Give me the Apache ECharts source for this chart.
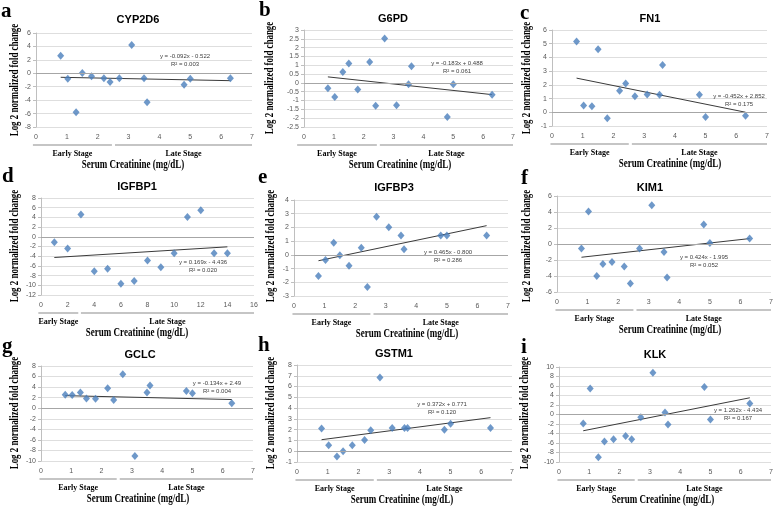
<!DOCTYPE html>
<html>
<head>
<meta charset="utf-8">
<script src="https://cdn.jsdelivr.net/npm/echarts@6/dist/echarts.min.js"></script>
<style>
  html, body { margin: 0; padding: 0; background: #fff; }
  #chart { width: 778px; height: 507px; }
</style>
</head>
<body>
<div id="chart"></div>
<script>
// serum creatinine of the 14 samples (shared by all panels except IGFBP1)
const creatinine = [0.8, 1.03, 1.3, 1.5, 1.8, 2.2, 2.4, 2.7, 3.1, 3.5, 3.6, 4.8, 5.0, 6.3];
// IGFBP1 panel is plotted against sample order
const sampleOrder = [1, 2, 3, 4, 5, 6, 7, 8, 9, 10, 11, 12, 13, 14];

// log2 normalized fold change per gene
const cyp2d6 = [2.6, -0.8, -5.8, 0.05, -0.45, -0.75, -1.3, -0.75, 4.2, -0.75, -4.3, -1.7, -0.8, -0.75];
const g6pd = [-0.3, -0.8, 0.62, 1.1, -0.38, 1.18, -1.3, 2.52, -1.27, -0.08, 0.95, -1.93, -0.07, -0.67];
const fn1 = [5.16, 0.5, 0.44, 4.6, -0.44, 1.57, 2.1, 1.17, 1.3, 1.27, 3.45, 1.27, -0.35, -0.25];
const igfbp1 = [-1.1, -2.4, 4.6, -7.1, -6.6, -9.7, -9.1, -4.9, -6.3, -3.4, 4.1, 5.5, -3.4, -3.4];
const igfbp3 = [-1.55, -0.38, 0.88, -0.02, -0.8, 0.52, -2.35, 2.78, 2.02, 1.42, 0.4, 1.42, 1.42, 1.42];
const kim1 = [-0.55, 4.05, -4.0, -2.5, -2.25, -2.8, -4.95, -0.55, 4.85, -1.0, -4.2, 2.45, 0.12, 0.7];
const gclc = [2.55, 2.5, 3.0, 1.85, 1.8, 3.8, 1.55, 6.45, -9.05, 3.0, 4.3, 3.25, 2.85, 0.95];
const gstm1 = [2.1, 0.55, -0.5, 0.0, 0.55, 1.05, 1.95, 6.85, 2.15, 2.15, 2.15, 2.0, 2.55, 2.15];
const klk = [-1.9, 5.5, -9.0, -5.7, -5.2, -4.5, -5.2, -0.6, 8.8, 0.4, -2.1, 5.8, -1.05, 2.3];

// linear trend lines (end points from the printed equations)
const cyp2d6Trend = [[0.8, -0.596], [6.3, -1.102]];
const g6pdTrend = [[0.8, 0.342], [6.3, -0.665]];
const fn1Trend = [[0.8, 2.490], [6.3, 0.004]];
const igfbp1Trend = [[1, -4.267], [14, -2.070]];
const igfbp3Trend = [[0.8, -0.428], [6.3, 2.130]];
const kim1Trend = [[0.8, -1.656], [6.3, 0.676]];
const gclcTrend = [[0.8, 2.383], [6.3, 1.646]];
const gstm1Trend = [[0.8, 1.069], [6.3, 3.115]];
const klkTrend = [[0.8, -3.424], [6.3, 3.517]];

const equations = [
	['y = -0.092x - 0.522', 'R² = 0.003'],
	['y = -0.183x + 0.488', 'R² = 0.061'],
	['y = -0.452x + 2.852', 'R² = 0.175'],
	['y = 0.169x - 4.436', 'R² = 0.020'],
	['y = 0.465x - 0.800', 'R² = 0.286'],
	['y = 0.424x - 1.995', 'R² = 0.052'],
	['y = -0.134x + 2.49', 'R² = 0.004'],
	['y = 0.372x + 0.771', 'R² = 0.120'],
	['y = 1.262x - 4.434', 'R² = 0.167'],
];

// panel layout (pixels) + axis ranges
const panels = [
	{ letter: 'a', title: 'CYP2D6', x: creatinine, y: cyp2d6, trend: cyp2d6Trend, yMin: -8, yMax: 6, yStep: 2, xMax: 7, xStep: 1,
		grid: [36, 33, 216, 94], titlePos: [138, 20], letterPos: [1, 1], yNamePos: [15, 80], eqPos: [185, 56], xNameX: 133, early: [-0.1, 2.46], late: [2.56, 7] },
	{ letter: 'b', title: 'G6PD', x: creatinine, y: g6pd, trend: g6pdTrend, yMin: -2.5, yMax: 3, yStep: 0.5, xMax: 7, xStep: 1,
		grid: [304, 30, 209, 97], titlePos: [393, 19], letterPos: [259, 0], yNamePos: [270, 78], eqPos: [457, 63], xNameX: 400, early: [-0.23, 2.44], late: [2.54, 7] },
	{ letter: 'c', title: 'FN1', x: creatinine, y: fn1, trend: fn1Trend, yMin: -1, yMax: 6, yStep: 1, xMax: 7, xStep: 1,
		grid: [552, 30, 215, 96], titlePos: [650, 19], letterPos: [520, 3], yNamePos: [527, 78], eqPos: [739, 96], xNameX: 670, early: [-0.05, 2.5], late: [2.6, 7] },
	{ letter: 'd', title: 'IGFBP1', x: sampleOrder, y: igfbp1, trend: igfbp1Trend, yMin: -12, yMax: 8, yStep: 2, xMax: 16, xStep: 2,
		grid: [41, 198, 213, 97], titlePos: [137, 187], letterPos: [2, 166], yNamePos: [15, 246], eqPos: [203, 262], xNameX: 137, early: [-0.2, 2.8], late: [3.0, 16] },
	{ letter: 'e', title: 'IGFBP3', x: creatinine, y: igfbp3, trend: igfbp3Trend, yMin: -3, yMax: 4, yStep: 1, xMax: 7, xStep: 1,
		grid: [294, 200, 214, 96], titlePos: [394, 188], letterPos: [258, 167], yNamePos: [271, 246], eqPos: [448, 252], xNameX: 407, early: [-0.05, 2.5], late: [2.6, 7] },
	{ letter: 'f', title: 'KIM1', x: creatinine, y: kim1, trend: kim1Trend, yMin: -6, yMax: 6, yStep: 2, xMax: 7, xStep: 1,
		grid: [557, 196, 214, 96], titlePos: [650, 188], letterPos: [521, 168], yNamePos: [527, 246], eqPos: [704, 257], xNameX: 670, early: [-0.05, 2.5], late: [2.6, 7] },
	{ letter: 'g', title: 'GCLC', x: creatinine, y: gclc, trend: gclcTrend, yMin: -10, yMax: 8, yStep: 2, xMax: 7, xStep: 1,
		grid: [41, 366, 212, 95], titlePos: [140, 355], letterPos: [2, 336], yNamePos: [15, 413], eqPos: [217, 383], xNameX: 138, early: [-0.05, 2.5], late: [2.6, 7] },
	{ letter: 'h', title: 'GSTM1', x: creatinine, y: gstm1, trend: gstm1Trend, yMin: -1, yMax: 8, yStep: 1, xMax: 7, xStep: 1,
		grid: [297, 365, 215, 97], titlePos: [394, 354], letterPos: [258, 335], yNamePos: [271, 413], eqPos: [442, 404], xNameX: 402, early: [-0.05, 2.5], late: [2.6, 7] },
	{ letter: 'i', title: 'KLK', x: creatinine, y: klk, trend: klkTrend, yMin: -10, yMax: 10, yStep: 2, xMax: 7, xStep: 1,
		grid: [559, 367, 212, 95], titlePos: [655, 355], letterPos: [521, 337], yNamePos: [525, 413], eqPos: [738, 410], xNameX: 663, early: [-0.05, 2.5], late: [2.6, 7] },
];

const SERIF = '"Liberation Serif", "DejaVu Serif", serif';
const SANS = '"Liberation Sans", Arial, sans-serif';
const TICK = '#595959';

const chart = echarts.init(document.getElementById('chart'), null, { renderer: 'canvas' });

const grid = [];
const xAxis = [];
const yAxis = [];
const series = [];

panels.forEach((p, i) => {
	grid.push({ left: p.grid[0], top: p.grid[1], width: p.grid[2], height: p.grid[3] });
	xAxis.push({
		type: 'value', gridIndex: i, min: 0, max: p.xMax, interval: p.xStep,
		axisLine: { show: false }, axisTick: { show: false }, splitLine: { show: false },
		axisLabel: { fontSize: 7, color: TICK, margin: 7, fontFamily: SANS },
	});
	yAxis.push({
		type: 'value', gridIndex: i, min: p.yMin, max: p.yMax, interval: p.yStep,
		axisLine: { show: true, lineStyle: { color: '#bfbfbf' } },
		axisTick: { show: true, length: 3, lineStyle: { color: '#bfbfbf' } },
		splitLine: { show: true, lineStyle: { color: '#dedede', width: 1 } },
		axisLabel: { fontSize: 7, color: TICK, margin: 5, fontFamily: SANS },
	});
	series.push({
		type: 'scatter', xAxisIndex: i, yAxisIndex: i,
		data: p.x.map((v, k) => [v, p.y[k]]),
		symbol: 'diamond', symbolSize: [7, 8],
		itemStyle: { color: '#4a7ebb' },
		z: 3,
		markLine: {
			silent: true, symbol: 'none', label: { show: false },
			lineStyle: { color: '#a6a6a6', width: 1, type: 'solid' },
			data: [{ yAxis: 0 }],
		},
	});
	series.push({
		type: 'line', xAxisIndex: i, yAxisIndex: i,
		data: p.trend, showSymbol: false, symbol: 'none',
		lineStyle: { color: '#3a3a3a', width: 1 },
		z: 2,
	});
});

chart.setOption({
	animation: false,
	backgroundColor: '#ffffff',
	grid, xAxis, yAxis, series,
});

// annotations: letters, titles, axis names, stage brackets, equations
const graphics = [];
panels.forEach((p, i) => {
	const bottom = p.grid[1] + p.grid[3];
	const px = (v) => chart.convertToPixel({ xAxisIndex: i }, v);

	graphics.push({
		type: 'text', x: p.letterPos[0], y: p.letterPos[1],
		style: { text: p.letter, font: `bold 21px ${SERIF}`, fill: '#000', textVerticalAlign: 'top' },
	});
	graphics.push({
		type: 'text', x: p.titlePos[0], y: p.titlePos[1],
		style: { text: p.title, font: `bold 11px ${SANS}`, fill: '#000', textAlign: 'center', textVerticalAlign: 'middle' },
	});
	graphics.push({
		type: 'text', x: p.yNamePos[0], y: p.yNamePos[1], rotation: Math.PI / 2, scaleX: 0.74,
		style: { text: 'Log 2 normalized fold change', font: `bold 12px ${SERIF}`, fill: '#000', textAlign: 'center', textVerticalAlign: 'middle' },
	});
	[p.early, p.late].forEach((seg, k) => {
		const x1 = px(seg[0]);
		const x2 = px(seg[1]);
		graphics.push({
			type: 'line', shape: { x1, y1: bottom + 18, x2, y2: bottom + 18 },
			style: { stroke: '#8c8c8c', lineWidth: 1.2 },
		});
		graphics.push({
			type: 'text', x: (x1 + x2) / 2, y: bottom + 27,
			style: { text: k === 0 ? 'Early Stage' : 'Late Stage', font: `bold 8px ${SERIF}`, fill: '#000', textAlign: 'center', textVerticalAlign: 'middle' },
		});
	});
	graphics.push({
		type: 'text', x: p.xNameX, y: bottom + 38, scaleX: 0.75,
		style: { text: 'Serum Creatinine (mg/dL)', font: `bold 12px ${SERIF}`, fill: '#000', textAlign: 'center', textVerticalAlign: 'middle' },
	});
	graphics.push({
		type: 'text', x: p.eqPos[0], y: p.eqPos[1],
		style: { text: equations[i][0], font: `6px ${SANS}`, fill: '#404040', textAlign: 'center', textVerticalAlign: 'middle' },
	});
	graphics.push({
		type: 'text', x: p.eqPos[0], y: p.eqPos[1] + 8,
		style: { text: equations[i][1], font: `6px ${SANS}`, fill: '#404040', textAlign: 'center', textVerticalAlign: 'middle' },
	});
});

chart.setOption({ graphic: graphics });

window.addEventListener('resize', () => chart.resize());
</script>
</body>
</html>
